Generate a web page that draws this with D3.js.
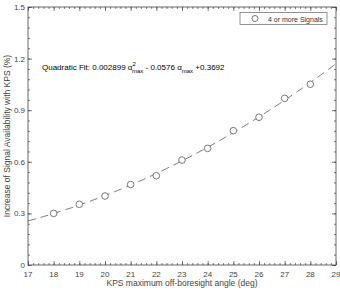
<!DOCTYPE html>
<html><head><meta charset="utf-8">
<script src="https://cdn.jsdelivr.net/npm/d3@7"></script>
<style>body{margin:0;background:#fff}svg{display:block}text{font-family:"Liberation Sans",Arial,sans-serif}</style>
</head><body><svg id="c" width="340" height="290"></svg>
<script>
const angles = [18,19,20,21,22,23,24,25,26,27,28];
const increase = [0.300,0.353,0.401,0.468,0.519,0.610,0.678,0.781,0.859,0.969,1.051];
const xTicks = [17,18,19,20,21,22,23,24,25,26,27,28,29];
const yTicks = [0,0.3,0.6,0.9,1.2,1.5];
const legendLabel = "4 or more Signals";
const fitText = ["Quadratic Fit: 0.002899 ", "α", "2", "max", " - 0.0576 ", "α", "max", " +0.3692"];

const svg = d3.select("#c");
const m = {l:28, r:336, t:7, b:265};
const x = d3.scaleLinear().domain([17,29]).range([m.l, m.r]);
const y = d3.scaleLinear().domain([0,1.5]).range([m.b, m.t]);
const ink = "#444";

// least squares quadratic fit of the data
function quadFit(xs, ys){
  let S=[0,0,0,0,0], T=[0,0,0];
  xs.forEach((xv,i)=>{const p=[1,xv,xv*xv,xv**3,xv**4]; for(let k=0;k<5;k++)S[k]+=p[k]; T[0]+=ys[i]; T[1]+=ys[i]*xv; T[2]+=ys[i]*xv*xv;});
  const A=[[S[0],S[1],S[2],T[0]],[S[1],S[2],S[3],T[1]],[S[2],S[3],S[4],T[2]]];
  for(let i=0;i<3;i++){for(let j=i+1;j<3;j++){const f=A[j][i]/A[i][i];for(let k=i;k<4;k++)A[j][k]-=f*A[i][k];}}
  const c=[0,0,0];
  for(let i=2;i>=0;i--){let s=A[i][3];for(let k=i+1;k<3;k++)s-=A[i][k]*c[k];c[i]=s/A[i][i];}
  return c;
}
const coef = quadFit(angles, increase);
const fitX = d3.range(17, 29.001, 0.1);
const line = d3.line().x(d=>x(d)).y(d=>y(coef[0]+coef[1]*d+coef[2]*d*d));
svg.append("path").datum(fitX).attr("d", line).attr("fill","none")
  .attr("stroke","#777").attr("stroke-width",1).attr("stroke-dasharray","8,5");

// frame
svg.append("rect").attr("x",m.l).attr("y",m.t).attr("width",m.r-m.l).attr("height",m.b-m.t)
  .attr("fill","none").attr("stroke",ink).attr("stroke-width",0.8);

// axes
const xMinor = d3.range(17,29.001,0.2);
const yMinor = d3.range(0,1.5001,0.06);
function ticks(g, axis){ g.call(axis); g.select(".domain").remove(); g.selectAll("line").attr("stroke",ink).attr("stroke-width",0.7); g.selectAll("text").remove(); }
svg.append("g").attr("transform",`translate(0,${m.b})`).call(g=>ticks(g,d3.axisTop(x).tickValues(xMinor).tickSize(2).tickFormat("")));
svg.append("g").attr("transform",`translate(0,${m.t})`).call(g=>ticks(g,d3.axisBottom(x).tickValues(xMinor).tickSize(2).tickFormat("")));
svg.append("g").attr("transform",`translate(0,${m.b})`).call(g=>ticks(g,d3.axisTop(x).tickValues(xTicks).tickSize(4).tickFormat("")));
svg.append("g").attr("transform",`translate(0,${m.t})`).call(g=>ticks(g,d3.axisBottom(x).tickValues(xTicks).tickSize(4).tickFormat("")));
svg.append("g").attr("transform",`translate(${m.l},0)`).call(g=>ticks(g,d3.axisRight(y).tickValues(yMinor).tickSize(2).tickFormat("")));
svg.append("g").attr("transform",`translate(${m.r},0)`).call(g=>ticks(g,d3.axisLeft(y).tickValues(yMinor).tickSize(2).tickFormat("")));
svg.append("g").attr("transform",`translate(${m.l},0)`).call(g=>ticks(g,d3.axisRight(y).tickValues(yTicks).tickSize(4).tickFormat("")));
svg.append("g").attr("transform",`translate(${m.r},0)`).call(g=>ticks(g,d3.axisLeft(y).tickValues(yTicks).tickSize(4).tickFormat("")));

// tick labels
svg.append("g").selectAll("text").data(xTicks).join("text")
  .attr("x",d=>x(d)).attr("y",m.b+12).attr("text-anchor","middle").attr("font-size",8).attr("fill",ink).text(d=>d);
svg.append("g").selectAll("text").data(yTicks).join("text")
  .attr("x",m.l-3).attr("y",d=>y(d)+3).attr("text-anchor","end").attr("font-size",8).attr("fill",ink)
  .text(d=>d===0?"0":d3.format(".1f")(d));

// axis titles
svg.append("text").attr("x",(m.l+m.r)/2).attr("y",286).attr("text-anchor","middle").attr("font-size",8.5).attr("fill",ink)
  .text("KPS maximum off-boresight angle (deg)");
svg.append("text").attr("transform",`translate(10,${(m.t+m.b)/2}) rotate(-90)`).attr("text-anchor","middle")
  .attr("font-size",8.5).attr("fill",ink).text("Increase of Signal Availability with KPS (%)");

// points
svg.append("g").selectAll("circle").data(angles).join("circle")
  .attr("cx",d=>x(d)).attr("cy",(d,i)=>y(increase[i])).attr("r",3.3)
  .attr("fill","#fff").attr("stroke","#555").attr("stroke-width",0.8);

// legend
svg.append("rect").attr("x",240).attr("y",12.5).attr("width",87).attr("height",12).attr("fill","#fff").attr("stroke","#666").attr("stroke-width",0.7);
svg.append("circle").attr("cx",255).attr("cy",18.5).attr("r",3).attr("fill","none").attr("stroke","#555").attr("stroke-width",0.8);
svg.append("text").attr("x",268).attr("y",21.5).attr("font-size",7).attr("fill","#333").text(legendLabel);

// annotation
const t = svg.append("text").attr("x",42).attr("y",70).attr("font-size",8).attr("fill","#000");
t.append("tspan").text(fitText[0]);
t.append("tspan").text(fitText[1]);
t.append("tspan").attr("dy",-4).attr("font-size",6).text(fitText[2]);
t.append("tspan").attr("dx",-3.8).attr("dy",7).attr("font-size",6).text(fitText[3]);
t.append("tspan").attr("dy",-3).text(fitText[4]);
t.append("tspan").text(fitText[5]);
t.append("tspan").attr("dy",3).attr("font-size",6).text(fitText[6]);
t.append("tspan").attr("dy",-3).text(fitText[7]);
</script></body></html>
